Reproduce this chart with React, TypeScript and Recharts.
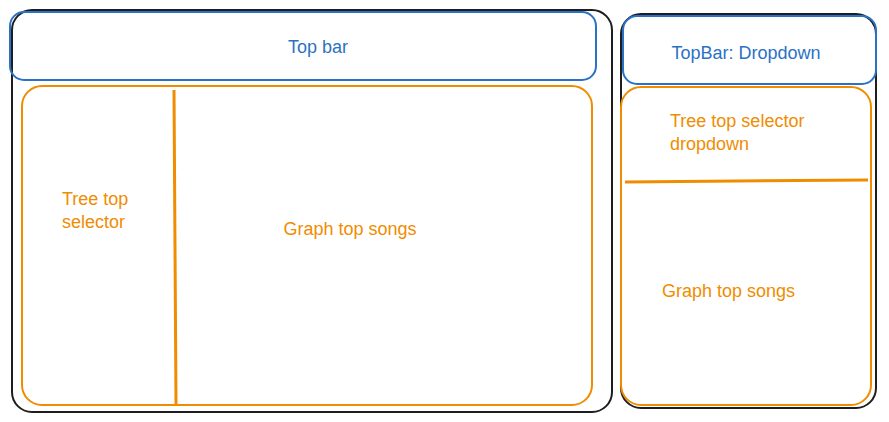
import { ScatterChart, Scatter, XAxis, YAxis, ReferenceArea, ReferenceLine, ReferenceDot } from 'recharts'

// wireframe boxes, in picture units (0..889 x 0..422)
const boxNames = ['leftFrame', 'leftTopBar', 'leftBody', 'rightFrame', 'rightTopBar', 'rightBody']
const boxX1 = [12, 10, 22, 621, 623, 621]
const boxX2 = [612, 596, 592, 876, 876, 871]
const boxY1 = [10, 12, 86, 14, 16, 87]
const boxY2 = [412, 80, 405, 408, 84, 405]
const boxKind = ['frame', 'bar', 'body', 'frame', 'bar', 'body']

// divider lines
const lineX1 = [174, 625]
const lineY1 = [90, 182]
const lineX2 = [176, 868]
const lineY2 = [404, 180]

// labels
const labelText = ['Top bar', 'TopBar: Dropdown', 'Tree top', 'selector', 'Graph top songs', 'Tree top selector', 'dropdown', 'Graph top songs']
const labelX = [318, 746, 62, 62, 350, 670, 670, 662]
const labelY = [47, 53, 199, 222, 229, 121, 144, 291]
const labelAnchor = ['middle', 'middle', 'start', 'start', 'middle', 'start', 'start', 'start']
const labelKind = ['bar', 'bar', 'body', 'body', 'body', 'body', 'body', 'body']

const colors: Record<string, string> = { frame: '#1e1e1e', bar: '#2a72c4', body: '#f08c00' }

// corner points so the chart has data to lay out its scales
const corners = boxNames.map((_, i) => ({ x: boxX1[i], y: boxY1[i] }))

export default function App() {
  return (
    <div style={{ position: 'absolute', left: 0, top: 0, width: 889, height: 422, background: '#fff' }}>
      <ScatterChart width={889} height={422} margin={{ top: 0, right: 0, bottom: 0, left: 0 }}>
        <XAxis type="number" dataKey="x" domain={[0, 889]} allowDataOverflow hide />
        <YAxis type="number" dataKey="y" domain={[0, 422]} allowDataOverflow reversed hide width={0} />
        <Scatter data={corners} isAnimationActive={false} fill="none" shape={() => <g />} />
        {boxNames.map((n, i) => (
          <ReferenceArea
            key={n}
            x1={boxX1[i]}
            x2={boxX2[i]}
            y1={boxY1[i]}
            y2={boxY2[i]}
            ifOverflow="visible"
            fill="#ffffff"
            fillOpacity={0}
            stroke={colors[boxKind[i]]}
            strokeOpacity={1}
            strokeWidth={2}
            radius={boxKind[i] === 'bar' ? 14 : 20}
          />
        ))}
        {lineX1.map((x, i) => (
          <ReferenceLine
            key={i}
            segment={[{ x, y: lineY1[i] }, { x: lineX2[i], y: lineY2[i] }]}
            ifOverflow="visible"
            stroke={colors.body}
            strokeWidth={3}
          />
        ))}
        {labelText.map((t, i) => (
          <ReferenceDot
            key={i}
            x={labelX[i]}
            y={labelY[i]}
            r={1}
            fill="none"
            stroke="none"
            ifOverflow="visible"
            label={(p: any) => (
              <text
                x={p.viewBox.x + 1}
                y={p.viewBox.y + 1}
                textAnchor={labelAnchor[i]}
                dominantBaseline="central"
                fill={colors[labelKind[i]]}
                fontFamily="Liberation Sans, Arial, sans-serif"
                fontSize={18}
              >
                {t}
              </text>
            )}
          />
        ))}
      </ScatterChart>
    </div>
  )
}
